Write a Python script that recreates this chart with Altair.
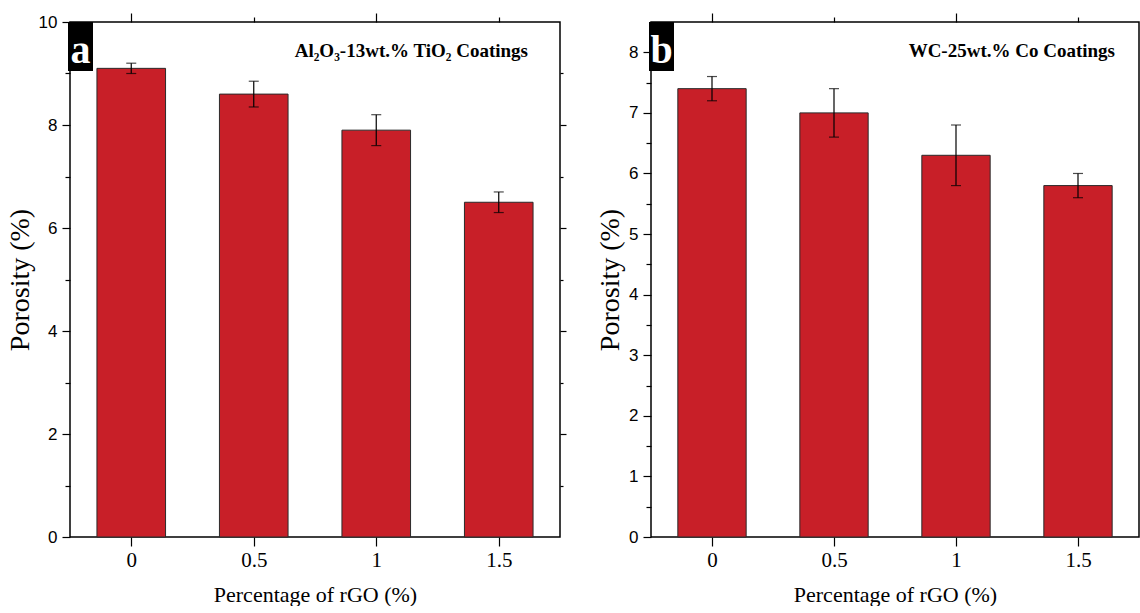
import altair as alt
import pandas as pd

# ---- data ----
rgo = [0, 0.5, 1, 1.5]
por_a = [9.1, 8.6, 7.9, 6.5]
err_a = [0.1, 0.25, 0.3, 0.2]
por_b = [7.4, 7.0, 6.3, 5.8]
err_b = [0.2, 0.4, 0.5, 0.2]

title_a = "Al₂O₃-13wt.% TiO₂ Coatings"
title_b = "WC-25wt.% Co Coatings"

BAR_HALF = 0.14
RED = "#C81F28"
SERIF = "Liberation Serif"
SANS = "Liberation Sans"
H = 515


def ax(**kw):
    base = dict(grid=False, domain=False, tickColor="black", tickWidth=1.2,
                labelColor="black", titleColor="black", titleFontWeight="normal")
    base.update(kw)
    return alt.Axis(**base)


def panel(vals, errs, ymax, ymajor, yminor, yright, yright_minor, letter, label, W, label_gap):
    df = pd.DataFrame({"x": rgo, "v": vals, "e": errs})
    base = alt.Chart(df).transform_calculate(
        x0=f"datum.x - {BAR_HALF}", x1=f"datum.x + {BAR_HALF}",
        lo="datum.v - datum.e", hi="datum.v + datum.e", z="0")
    xs = alt.Scale(domain=[-0.25, 1.75], nice=False, zero=False, padding=0)
    ys = alt.Scale(domain=[0, ymax], nice=False, padding=0)

    bars = base.mark_bar(color=RED, stroke="#2a2a2a", strokeWidth=1).encode(
        x=alt.X("x0:Q", scale=xs, axis=ax(
            orient="bottom", values=rgo, labelExpr="'' + datum.value",
            title="Percentage of rGO (%)", tickSize=9, labelPadding=3,
            labelFont=SERIF, labelFontSize=21, titleFont=SERIF, titleFontSize=22,
            titlePadding=14)),
        x2="x1:Q",
        y=alt.Y("v:Q", scale=ys, axis=ax(
            orient="left", values=ymajor, title="Porosity (%)", tickSize=8,
            labelPadding=5, labelFont=SANS, labelFontSize=17,
            titleFont=SERIF, titleFontSize=28, titlePadding=4)),
        y2="z:Q",
    )
    rule = base.mark_rule(color="black", strokeWidth=1.2).encode(
        x=alt.X("x:Q", scale=xs, axis=ax(orient="top", values=[0, 1], tickSize=9,
                                          labels=False, title=None)),
        y=alt.Y("lo:Q", scale=ys, axis=ax(orient="left", values=yminor, tickSize=5,
                                           labels=False, title=None)),
        y2="hi:Q",
    )
    right_axis = (ax(orient="right", values=yright, tickSize=6, labels=False, title=None)
                  if yright else None)
    right_minor = (ax(orient="right", values=yright_minor, tickSize=3, labels=False, title=None)
                   if yright_minor else None)
    cap_hi = base.mark_tick(color="black", orient="horizontal", size=10, thickness=1.2).encode(
        x=alt.X("x:Q", scale=xs, axis=ax(orient="top", values=[0.5, 1.5], tickSize=5,
                                          labels=False, title=None)),
        y=alt.Y("hi:Q", scale=ys, axis=right_axis),
    )
    cap_lo = base.mark_tick(color="black", orient="horizontal", size=10, thickness=1.2).encode(
        x=alt.X("x:Q", scale=xs, axis=None),
        y=alt.Y("lo:Q", scale=ys, axis=right_minor),
    )
    ann = pd.DataFrame({"letter": [letter], "label": [label]})
    box = alt.Chart(ann).mark_rect(color="black").encode(
        x=alt.value(-2), x2=alt.value(23), y=alt.value(0), y2=alt.value(49))
    let = alt.Chart(ann).mark_text(color="white", font=SERIF, fontWeight="bold",
                                   fontSize=40, align="center", baseline="alphabetic").encode(
        x=alt.value(10.5), y=alt.value(41), text="letter:N")
    lab = alt.Chart(ann).mark_text(color="black", font=SERIF, fontWeight="bold",
                                   fontSize=19, align="right", baseline="middle").encode(
        x=alt.value(W - label_gap), y=alt.value(29), text="label:N")

    return alt.layer(bars, rule, cap_hi, cap_lo, box, let, lab).resolve_axis(
        x="independent", y="independent").properties(width=W, height=H)


pa = panel(por_a, err_a, 10, [0, 2, 4, 6, 8, 10], [1, 3, 5, 7, 9],
           [2, 4, 6, 8], [1, 3, 5, 7, 9], "a", title_a, 490, 32)
pb = panel(por_b, err_b, 8.5, [0, 1, 2, 3, 4, 5, 6, 7, 8],
           [0.5, 1.5, 2.5, 3.5, 4.5, 5.5, 6.5, 7.5],
           None, None, "b", title_b, 488, 24)

chart = alt.hconcat(pa, pb, spacing=27).configure_view(
    stroke="black", strokeWidth=1.5).properties(
    padding={"left": 5, "top": 11, "right": 0, "bottom": 0}, background="white")

chart.save("out.html", embed_options={"renderer": "svg", "actions": False})
